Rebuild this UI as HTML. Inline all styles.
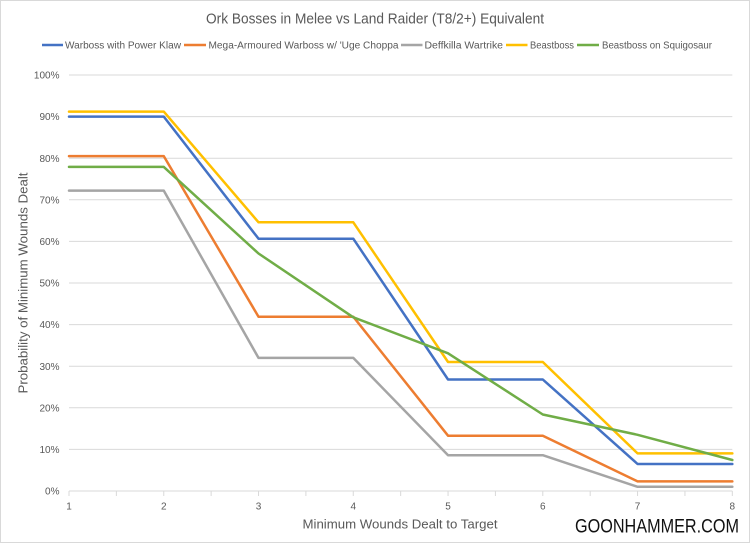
<!DOCTYPE html>
<html><head><meta charset="utf-8"><style>
html,body{margin:0;padding:0;background:#fff;}
svg{display:block;}
text{font-family:"Liberation Sans",sans-serif;}
</style></head><body>
<svg width="750" height="544" viewBox="0 0 750 544" xmlns="http://www.w3.org/2000/svg">
<rect x="0" y="0" width="750" height="544" fill="#fff"/>
<rect x="0.5" y="0.5" width="749" height="542" fill="none" stroke="#d9d9d9" stroke-width="1"/>
<text x="375" y="23.5" text-anchor="middle" font-size="14.5" fill="#595959" textLength="338" lengthAdjust="spacingAndGlyphs">Ork Bosses in Melee vs Land Raider (T8/2+) Equivalent</text>
<g font-size="10" fill="#595959">
<line x1="42" y1="45" x2="63" y2="45" stroke="#4472C4" stroke-width="2.5"/>
<text x="65" y="48.5" textLength="116" lengthAdjust="spacingAndGlyphs">Warboss with Power Klaw</text>
<line x1="184" y1="45" x2="206" y2="45" stroke="#ED7D31" stroke-width="2.5"/>
<text x="208.5" y="48.5" textLength="190" lengthAdjust="spacingAndGlyphs">Mega-Armoured Warboss w/ 'Uge Choppa</text>
<line x1="401" y1="45" x2="422.5" y2="45" stroke="#A5A5A5" stroke-width="2.5"/>
<text x="424.5" y="48.5" textLength="78.5" lengthAdjust="spacingAndGlyphs">Deffkilla Wartrike</text>
<line x1="506" y1="45" x2="527.5" y2="45" stroke="#FFC000" stroke-width="2.5"/>
<text x="530" y="48.5" textLength="44" lengthAdjust="spacingAndGlyphs">Beastboss</text>
<line x1="577" y1="45" x2="599" y2="45" stroke="#70AD47" stroke-width="2.5"/>
<text x="602" y="48.5" textLength="110" lengthAdjust="spacingAndGlyphs">Beastboss on Squigosaur</text>
</g>
<g stroke="#d9d9d9" stroke-width="1">
<line x1="69" y1="75" x2="732.3" y2="75"/>
<line x1="69" y1="116.6" x2="732.3" y2="116.6"/>
<line x1="69" y1="158.2" x2="732.3" y2="158.2"/>
<line x1="69" y1="199.8" x2="732.3" y2="199.8"/>
<line x1="69" y1="241.4" x2="732.3" y2="241.4"/>
<line x1="69" y1="283" x2="732.3" y2="283"/>
<line x1="69" y1="324.6" x2="732.3" y2="324.6"/>
<line x1="69" y1="366.2" x2="732.3" y2="366.2"/>
<line x1="69" y1="407.8" x2="732.3" y2="407.8"/>
<line x1="69" y1="449.4" x2="732.3" y2="449.4"/>
<line x1="69" y1="491" x2="732.3" y2="491"/>
<line x1="69" y1="491" x2="69" y2="496"/>
<line x1="116.38" y1="491" x2="116.38" y2="496"/>
<line x1="163.76" y1="491" x2="163.76" y2="496"/>
<line x1="211.14" y1="491" x2="211.14" y2="496"/>
<line x1="258.52" y1="491" x2="258.52" y2="496"/>
<line x1="305.9" y1="491" x2="305.9" y2="496"/>
<line x1="353.28" y1="491" x2="353.28" y2="496"/>
<line x1="400.66" y1="491" x2="400.66" y2="496"/>
<line x1="448.04" y1="491" x2="448.04" y2="496"/>
<line x1="495.42" y1="491" x2="495.42" y2="496"/>
<line x1="542.8" y1="491" x2="542.8" y2="496"/>
<line x1="590.18" y1="491" x2="590.18" y2="496"/>
<line x1="637.56" y1="491" x2="637.56" y2="496"/>
<line x1="684.94" y1="491" x2="684.94" y2="496"/>
<line x1="732.32" y1="491" x2="732.32" y2="496"/>
</g>
<g font-size="10" fill="#595959" text-anchor="end">
<text x="59.5" y="78.6">100%</text>
<text x="59.5" y="120.2">90%</text>
<text x="59.5" y="161.8">80%</text>
<text x="59.5" y="203.4">70%</text>
<text x="59.5" y="245">60%</text>
<text x="59.5" y="286.6">50%</text>
<text x="59.5" y="328.2">40%</text>
<text x="59.5" y="369.8">30%</text>
<text x="59.5" y="411.4">20%</text>
<text x="59.5" y="453">10%</text>
<text x="59.5" y="494.6">0%</text>
</g>
<g font-size="10" fill="#595959" text-anchor="middle">
<text x="69" y="509.5">1</text>
<text x="163.76" y="509.5">2</text>
<text x="258.52" y="509.5">3</text>
<text x="353.28" y="509.5">4</text>
<text x="448.04" y="509.5">5</text>
<text x="542.8" y="509.5">6</text>
<text x="637.56" y="509.5">7</text>
<text x="732.32" y="509.5">8</text>
</g>
<text x="400" y="528.5" text-anchor="middle" font-size="13" fill="#595959" textLength="195" lengthAdjust="spacingAndGlyphs">Minimum Wounds Dealt to Target</text>
<text transform="translate(27.5,283) rotate(-90)" text-anchor="middle" font-size="13" fill="#595959" textLength="221" lengthAdjust="spacingAndGlyphs">Probability of Minimum Wounds Dealt</text>
<g fill="none" stroke-width="2.5" stroke-linejoin="round" stroke-linecap="round">
<polyline stroke="#4472C4" points="69,116.6 163.76,116.6 258.52,238.7 353.28,238.7 448.04,379.5 542.8,379.5 637.56,464 732.32,464"/>
<polyline stroke="#ED7D31" points="69,156.1 163.76,156.1 258.52,316.7 353.28,316.7 448.04,435.7 542.8,435.7 637.56,481.4 732.32,481.4"/>
<polyline stroke="#A5A5A5" points="69,190.6 163.76,190.6 258.52,357.9 353.28,357.9 448.04,455.2 542.8,455.2 637.56,486.8 732.32,486.8"/>
<polyline stroke="#FFC000" points="69,111.6 163.76,111.6 258.52,222.3 353.28,222.3 448.04,362 542.8,362 637.56,453.4 732.32,453.4"/>
<polyline stroke="#70AD47" points="69,166.9 163.76,166.9 258.52,253.5 353.28,317.3 448.04,353.3 542.8,414.5 637.56,434.8 732.32,460"/>
</g>
<text x="575" y="532.3" font-size="19.5" fill="#111" textLength="164" lengthAdjust="spacingAndGlyphs">GOONHAMMER.COM</text>
</svg>
</body></html>
